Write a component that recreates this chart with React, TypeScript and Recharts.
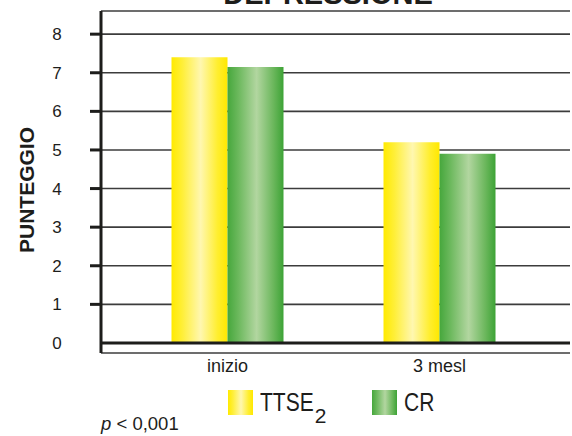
import React from 'react';
import { BarChart, Bar, XAxis, YAxis, CartesianGrid, ReferenceLine, Legend } from 'recharts';

const CATEGORIES = ['inizio', '3 mesl'];
const TTSE2_VALUES = [7.4, 5.2];
const CR_VALUES = [7.15, 4.9];
const Y_TICKS = [0, 1, 2, 3, 4, 5, 6, 7, 8];
const SERIES_ORDER = ['ttse2', 'cr'];

const data = CATEGORIES.map((name, i) => ({ name, ttse2: TTSE2_VALUES[i], cr: CR_VALUES[i] }));

const INK = '#1d1d1b';
const SANS = '"Liberation Sans", Arial, Helvetica, sans-serif';

// horizontal "cylinder" shading used on bars and legend swatches
const SHADES: Record<string, string[]> = {
    ttse2: ['#FFEA00', '#FFEF3A', '#FFF7B0', '#FFEE30', '#FFE800'],
    cr: ['#46A73C', '#6DB95E', '#B2D6A0', '#6BB75C', '#3DA336'],
};
const STOPS = [0, 0.2, 0.52, 0.82, 1];

const cssGradient = (key: string) =>
    `linear-gradient(to right, ${SHADES[key].map((c, i) => `${c} ${STOPS[i] * 100}%`).join(', ')})`;

const YTick = ({ x, y, payload }: any) => (
    <g>
        {payload.value !== 0 && (
            <line x1={x - 11} x2={x + 1} y1={y} y2={y} stroke={INK} strokeWidth={3} />
        )}
        <text x={x - 44} y={y + 6} textAnchor="middle" fontSize={17} fontFamily={SANS} fill={INK}>
            {payload.value}
        </text>
    </g>
);

const XTick = ({ x, y, payload }: any) => (
    <text x={x} y={y + 19} textAnchor="middle" fontSize={18} fontFamily={SANS} fill={INK}>
        {payload.value}
    </text>
);

const CONDENSE = 0.84;

// condensed legend labels, trailing digit set as a subscript
const LegendContent = ({ payload }: any) => {
    const items = [...(payload || [])].sort(
        (a: any, b: any) => SERIES_ORDER.indexOf(a.dataKey) - SERIES_ORDER.indexOf(b.dataKey)
    );
    return (
        <div style={{ display: 'flex', alignItems: 'center', paddingLeft: 228, fontFamily: SANS, color: INK }}>
            {items.map((entry: any) => {
                const m = /^(.*?)(\d+)$/.exec(entry.value);
                const main = m ? m[1] : entry.value;
                return (
                    <div key={entry.dataKey} style={{ display: 'flex', alignItems: 'center', width: 144 }}>
                        <div style={{ width: 25, height: 25, background: cssGradient(entry.dataKey) }} />
                        <span
                            style={{
                                display: 'inline-block',
                                fontSize: 25,
                                lineHeight: '25px',
                                marginLeft: 7,
                                whiteSpace: 'nowrap',
                                transform: `scaleX(${CONDENSE})`,
                                transformOrigin: 'left center',
                            }}
                        >
                            {main}
                        </span>
                        {m && (
                            <span
                                style={{
                                    fontSize: 21,
                                    lineHeight: '21px',
                                    position: 'relative',
                                    top: 13,
                                    marginLeft: -main.length * 25 * 0.64 * (1 - CONDENSE) + 1,
                                }}
                            >
                                {m[2]}
                            </span>
                        )}
                    </div>
                );
            })}
        </div>
    );
};

export default function App() {
    return (
        <div style={{ position: 'fixed', top: 0, left: 0, width: 572, height: 436, background: '#fff' }}>
            <BarChart
                width={572}
                height={436}
                data={data}
                margin={{ top: 11, right: 2, bottom: 0, left: 0 }}
                barGap={0}
                barSize={56}
            >
                <defs>
                    {Object.keys(SHADES).map((key) => (
                        <linearGradient key={key} id={`shade-${key}`} x1="0" y1="0" x2="1" y2="0">
                            {SHADES[key].map((c, i) => (
                                <stop key={i} offset={STOPS[i]} stopColor={c} />
                            ))}
                        </linearGradient>
                    ))}
                </defs>
                <CartesianGrid vertical={false} stroke="#3c3c3c" strokeWidth={1.6} />
                <XAxis
                    dataKey="name"
                    height={83}
                    axisLine={false}
                    tickLine={false}
                    tickSize={0}
                    tickMargin={0}
                    padding={{ left: 20.5, right: 24.5 }}
                    tick={<XTick />}
                />
                <YAxis
                    width={101}
                    domain={[-0.26, 8.6]}
                    ticks={Y_TICKS}
                    interval={0}
                    axisLine={{ stroke: INK, strokeWidth: 3 }}
                    tickLine={false}
                    tickSize={0}
                    tickMargin={0}
                    tick={<YTick />}
                />
                <Legend
                    layout="horizontal"
                    verticalAlign="middle"
                    align="center"
                    itemSorter={null as any}
                    wrapperStyle={{ top: 390, left: 0, width: 572, height: 40 }}
                    content={<LegendContent />}
                />
                <Bar dataKey="ttse2" name="TTSE2" fill="url(#shade-ttse2)" isAnimationActive={false} />
                <Bar dataKey="cr" name="CR" fill="url(#shade-cr)" isAnimationActive={false} />
                <ReferenceLine y={0} stroke={INK} strokeWidth={3} />
            </BarChart>
            <svg
                width={572}
                height={436}
                style={{ position: 'absolute', top: 0, left: 0, pointerEvents: 'none' }}
            >
                <text x={328} y={4} textAnchor="middle" fontSize={29} fontWeight="bold" fontFamily={SANS} fill={INK}>
                    DEPRESSIONE
                </text>
                <text
                    x={26}
                    y={190}
                    transform="rotate(-90 26 190)"
                    textAnchor="middle"
                    dominantBaseline="central"
                    fontSize={21}
                    fontWeight="bold"
                    fontFamily={SANS}
                    fill={INK}
                >
                    PUNTEGGIO
                </text>
                <text x={101} y={430} fontSize={18.5} fontFamily={SANS} fill={INK}>
                    <tspan fontStyle="italic">p</tspan> &lt; 0,001
                </text>
            </svg>
        </div>
    );
}
